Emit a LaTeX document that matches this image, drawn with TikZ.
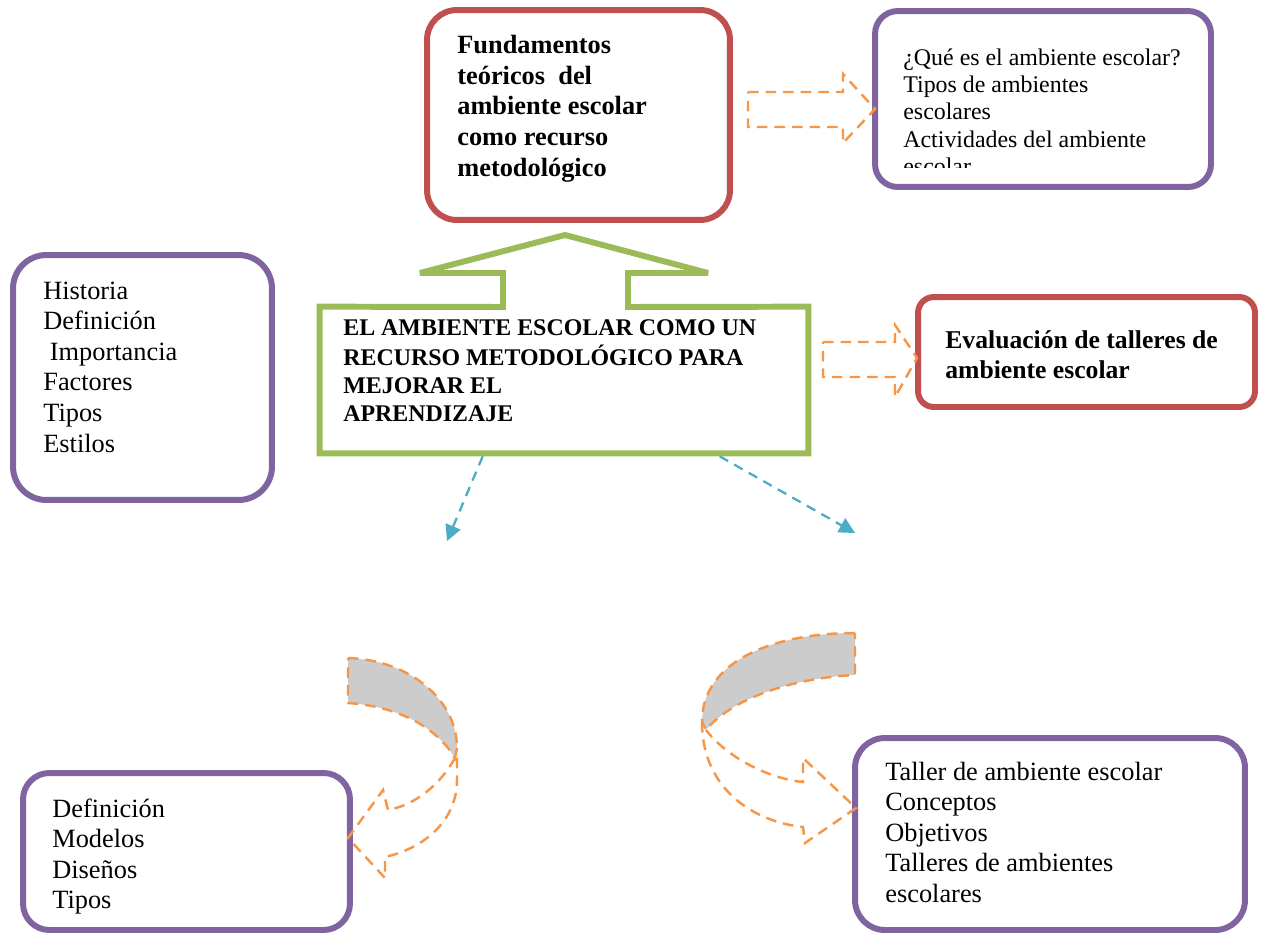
\documentclass[tikz,border=0pt]{standalone}
\usepackage{fontspec}
\setmainfont{Liberation Serif}
\usetikzlibrary{arrows.meta,calc}
\definecolor{rojo}{HTML}{C0504D}
\definecolor{morado}{HTML}{8064A2}
\definecolor{verde}{HTML}{9BBB59}
\definecolor{naranja}{HTML}{F79646}
\definecolor{azul}{HTML}{4BACC6}
\definecolor{gris}{HTML}{CCCCCC}
\newcommand{\letranormal}{\fontsize{15}{17.4}\selectfont}
\newcommand{\letrachica}{\fontsize{13.6}{15.5}\selectfont}
\newcommand{\letranegra}{\fontsize{15}{17.5}\selectfont\bfseries}
\newcommand{\letratitulo}{\fontsize{13.6}{15.9}\selectfont\bfseries}
\newcommand{\letraeval}{\fontsize{14.6}{17}\selectfont\bfseries}
\tikzset{
	caja/.style={draw=#1,line width=3.4pt,rectangle},
	texto/.style={anchor=north west,inner sep=0pt,align=left},
	bloque/.style={draw=naranja,line width=1.4pt,dash pattern=on 6pt off 4pt},
	guia/.style={draw=azul,line width=1.3pt,dash pattern=on 5.5pt off 4pt,
		-{Triangle[length=9pt,width=9pt]},azul}
}

\begin{document}
\begin{tikzpicture}[x=0.02cm,y=-0.02cm]
		\useasboundingbox (0,0) rectangle (1266,933);
		% cajas
		\node[caja=rojo,rounded corners=17pt,minimum width=6.06cm,minimum height=4.2cm] (fund) at (578.5,115) {};
		\node[caja=morado,rounded corners=13pt,minimum width=6.72cm,minimum height=3.52cm] (que) at (1043,99) {};
		\node[caja=morado,rounded corners=19pt,minimum width=5.18cm,minimum height=4.9cm] (hist) at (142.5,377.5) {};
		\node[minimum width=9.76cm,minimum height=2.92cm] (main) at (564,380) {};
		\node[caja=rojo,rounded corners=9pt,minimum width=6.74cm,minimum height=2.2cm] (eval) at (1086.5,352) {};
		\node[caja=morado,rounded corners=15pt,minimum width=6.54cm,minimum height=3.14cm] (defi) at (186.5,851.5) {};
		\node[caja=morado,rounded corners=17pt,minimum width=7.8cm,minimum height=3.84cm] (tall) at (1050,834) {};
		% caja central con flecha
		\draw[verde,line width=3.4pt,miter limit=3] (main.north west) -- (503,307) -- (503,273) -- (420,273) -- (565,235)
			-- (708,273) -- (628,273) -- (628,307) -- (main.north east) -- (main.south east) -- (main.south west) -- cycle;
		% textos
		\node[texto,font=\letranegra] (tfund) at (457,31.4)
			{\strut Fundamentos\\teóricos~ del\\ambiente escolar\\como recurso\\metodológico};
		\begin{scope}
			\clip (880,15) rectangle (1205,167);
			\node[texto,font=\letrachica] (tque) at (903,46)
				{\strut ¿Qué es el ambiente escolar?\\Tipos de ambientes\\escolares\\Actividades del ambiente\\escolar.};
		\end{scope}
		\node[texto,font=\letranormal] (thist) at (43,277.5)
			{\strut Historia\\Definición\\\hspace*{.25em}Importancia\\Factores\\Tipos\\Estilos};
		\node[texto,font=\letratitulo] (tmain) at (343,315.4)
			{\strut EL AMBIENTE ESCOLAR COMO UN\\RECURSO METODOLÓGICO PARA\\MEJORAR EL\\APRENDIZAJE};
		\node[texto,font=\letraeval] (teval) at (945,327)
			{\strut Evaluación de talleres de\\ambiente escolar};
		\node[texto,font=\letranormal] (tdefi) at (52,795.5)
			{\strut Definición\\Modelos\\Diseños\\Tipos};
		\node[texto,font=\letranormal] (ttall) at (885,758.5)
			{\strut Taller de ambiente escolar\\Conceptos\\Objetivos\\Talleres de ambientes\\escolares};
		% flechas de bloque
		\draw[bloque] (748,92) -- (843,92) -- (843,74) -- (875,109) -- (843,143) -- (843,127) -- (748,127) -- cycle;
		\draw[bloque] (823,342) -- (895,342) -- (895,325) -- (917,358) -- (895,397) -- (895,377) -- (823,377) -- cycle;
		% flechas azules
		\coordinate (fin1) at (447,541);
		\coordinate (fin2) at (855,533);
		\draw[guia] ($(main.south west)+(163,3)$) -- (fin1);
		\draw[guia] ($(main.south west)+(400,3)$) -- (fin2);
		% flechas curvas
		\draw[bloque,fill=gris] (348,658) .. controls (410,660) and (457,700) .. (457,748) -- (455,758)
			.. controls (435,725) and (395,706) .. (348,703) -- cycle;
		\draw[bloque] (455,758) .. controls (440,785) and (415,805) .. (388,810) -- (383,790) -- (348,838)
			-- (385,878) -- (385,857) .. controls (425,848) and (457,820) .. (457,780) -- (457,748);
		\draw[bloque,fill=gris] (855,633) .. controls (775,633) and (702,660) .. (702,722) -- (706,730)
			.. controls (730,700) and (790,678) .. (855,675) -- cycle;
		\draw[bloque] (702,722) .. controls (702,790) and (755,822) .. (803,827) -- (805,843) -- (856,808)
			-- (803,758) -- (803,782) .. controls (765,778) and (725,755) .. (706,730);
	\end{tikzpicture}
\end{document}
